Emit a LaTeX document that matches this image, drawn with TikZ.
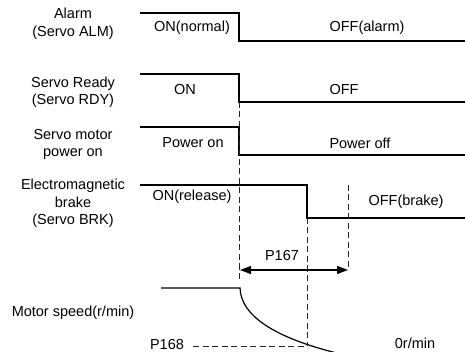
\documentclass[tikz,border=0pt]{standalone}
\usepackage{fontspec}
\setmainfont{Liberation Sans}
\usetikzlibrary{arrows.meta}
\begin{document}
\begin{tikzpicture}[x=1pt,y=-1pt,
  sig/.style={line width=1.2pt, line join=miter},
  guide/.style={line width=1pt, black!85, dash pattern=on 6pt off 3.5pt},
  dimarrow/.style={line width=1.3pt, {Triangle[length=11pt,width=8pt]}-{Triangle[length=11pt,width=8pt]}},
  lbl/.style={font=\fontsize{14.5}{17.5}\selectfont, inner sep=0pt, align=center}]
\useasboundingbox (0,0) rectangle (465,352);
% coordinates
\coordinate (alm0) at (140,13); \coordinate (alm1) at (239,13);
\coordinate (alm2) at (239,41); \coordinate (alm3) at (465,41);
\coordinate (rdy0) at (140,74); \coordinate (rdy1) at (239,74);
\coordinate (rdy2) at (239,102); \coordinate (rdy3) at (465,102);
\coordinate (pwr0) at (140,127); \coordinate (pwr1) at (239,127);
\coordinate (pwr2) at (239,155); \coordinate (pwr3) at (465,155);
\coordinate (brk0) at (140,185); \coordinate (brk1) at (307,185);
\coordinate (brk2) at (307,218); \coordinate (brk3) at (465,218);
\coordinate (spd0) at (161,288); \coordinate (spd1) at (240,288);
\coordinate (spd2) at (345,355);
\coordinate (g1b) at (239,280);
\coordinate (g2b) at (307,346);
\coordinate (g3t) at (348,185); \coordinate (g3b) at (348,270);
\coordinate (p168a) at (193,346);
\coordinate (arA) at (240,270);
% signals
\draw[sig] (alm0) -- (alm1) -- (alm2) -- (alm3);
\draw[sig] (rdy0) -- (rdy1) -- (rdy2) -- (rdy3);
\draw[sig] (pwr0) -- (pwr1) -- (pwr2) -- (pwr3);
\draw[sig] (brk0) -- (brk1) -- (brk2) -- (brk3);
\draw[sig] (spd0) -- (spd1) .. controls (241,318) and (280,340) .. (spd2);
% guides
\draw[guide] (rdy2) -- (g1b);
\draw[guide] (brk2) -- (g2b);
\draw[guide] (g3t) -- (g3b);
\draw[guide] (p168a) -- (g2b);
\draw[dimarrow] (arA) -- (g3b);
% labels
\node[lbl] (lalm) at (73,24) {Alarm\\(Servo ALM)};
\node[lbl] (lrdy) at (73,92.5) {Servo Ready\\(Servo RDY)};
\node[lbl] (lpwr) at (73,144.5) {Servo motor\\power on};
\node[lbl] (lbrk) at (73,203.5) {Electromagnetic\\brake\\(Servo BRK)};
\node[lbl] (lspd) at (73,313) {Motor speed(r/min)};
\node[lbl] (ton1) at (192,28) {ON(normal)};
\node[lbl] (toff1) at (367,28) {OFF(alarm)};
\node[lbl] (ton2) at (185,90) {ON};
\node[lbl] (toff2) at (344,90) {OFF};
\node[lbl] (ton3) at (193,143) {Power on};
\node[lbl] (toff3) at (360,143) {Power off};
\node[lbl] (ton4) at (192,197) {ON(release)};
\node[lbl] (toff4) at (406,202) {OFF(brake)};
\node[lbl] (tp167) at (282,256) {P167};
\node[lbl] (tp168) at (167,345) {P168};
\node[lbl] (tzero) at (415,343) {0r/min};
\end{tikzpicture}
\end{document}
